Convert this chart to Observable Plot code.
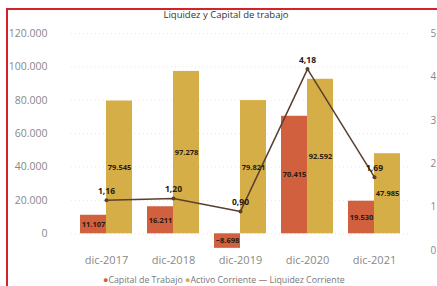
<!DOCTYPE html>
<html>
<head>
<meta charset="utf-8">
<script src="https://cdn.jsdelivr.net/npm/d3@7"></script>
<script src="https://cdn.jsdelivr.net/npm/@observablehq/plot@0.6"></script>
<style>
  html, body { margin: 0; padding: 0; background: #fff; }
  body { width: 437px; height: 286px; overflow: hidden; position: relative; font-family: "Open Sans", sans-serif; }
  #title { position: absolute; top: 8px; left: 0; width: 452px; text-align: center; font-size: 9.5px; color: #333; }
  #chart { position: absolute; top: 22px; left: 0; }
  #legend { position: absolute; top: 273px; left: 103px; font-size: 8.8px; color: #777; white-space: nowrap; }
  #legend span.sw { font-size: 9px; }
  .bl { position: absolute; left: 6px; top: 8px; width: 2px; height: 280px; background: #d2232a; }
  .bt { position: absolute; left: 6px; top: 8px; width: 440px; height: 2px; background: #d2232a; }
</style>
</head>
<body>
<div class="bl"></div>
<div class="bt"></div>
<div id="title">Liquidez y Capital de trabajo</div>
<div id="chart"></div>
<div id="legend"></div>
<script>
const years = ["dic-2017", "dic-2018", "dic-2019", "dic-2020", "dic-2021"];
const capitalTrabajo = [11107, 16211, -8698, 70415, 19530];
const activoCorriente = [79545, 97278, 79821, 92592, 47985];
const liquidezCorriente = [1.16, 1.20, 0.90, 4.18, 1.69];
const leftTicks = [0, 20000, 40000, 60000, 80000, 100000, 120000];
const rightTicks = [0, 1, 2, 3, 4, 5];
const seriesNames = ["Capital de Trabajo", "Activo Corriente", "Liquidez Corriente"];
const colors = ["#d0603e", "#d5ae47", "#5b3f2e"];

const locale = d3.formatLocale({decimal: ",", thousands: ".", grouping: [3], currency: ["", ""]});
const fmtInt = locale.format(",d");
const fmt2 = locale.format(".2f");

const leftDomain = [-10000, 120000];
const rightDomain = [0, 5];
const toLeft = d3.scaleLinear(rightDomain, leftDomain);

const data = years.map((year, i) => ({
  year, cap: capitalTrabajo[i], act: activoCorriente[i], liq: liquidezCorriente[i]
}));

const chart = Plot.plot({
  width: 437,
  height: 250,
  marginTop: 11,
  marginBottom: 22,
  marginLeft: 71,
  marginRight: 29,
  style: {fontFamily: "'Open Sans', sans-serif", background: "transparent"},
  x: {domain: years, paddingInner: 0.23, paddingOuter: 0.115, label: null},
  y: {domain: leftDomain, label: null},
  marks: [
    Plot.gridY(leftTicks, {stroke: "#d8d8d8", strokeOpacity: 0.6, strokeDasharray: "1,3"}),
    Plot.axisY(leftTicks, {anchor: "left", tickSize: 0, tickPadding: 24, tickFormat: fmtInt, fontSize: 10.5, fill: "#888", label: null}),
    Plot.axisY(rightTicks.map(toLeft), {anchor: "right", tickSize: 0, tickPadding: 22, tickFormat: d => String(Math.round(toLeft.invert(d))), fontSize: 10, fill: "#888", label: null}),
    Plot.axisX({tickSize: 0, tickPadding: 6, fontSize: 11, fill: "#888", label: null}),
    Plot.barY(data, {x: "year", y: "cap", fill: colors[0], insetRight: 26}),
    Plot.barY(data, {x: "year", y: "act", fill: colors[1], insetLeft: 26}),
    Plot.line(data, {x: "year", y: d => toLeft(d.liq), stroke: colors[2], strokeWidth: 1.5}),
    Plot.dot(data, {x: "year", y: d => toLeft(d.liq), r: 2, fill: colors[2]}),
    Plot.text(data, {x: "year", y: d => d.cap / 2, text: d => fmtInt(d.cap), dx: -13, fontSize: 7.5, fontWeight: "bold", fill: "#2a1a10"}),
    Plot.text(data, {x: "year", y: d => d.act / 2, text: d => fmtInt(d.act), dx: 13, fontSize: 7.5, fontWeight: "bold", fill: "#2a1a10"}),
    Plot.text(data, {x: "year", y: d => toLeft(d.liq), text: d => fmt2(d.liq), dy: -9, fontSize: 8.5, fontWeight: "bold", fill: "#2a1a10"})
  ]
});
document.getElementById("chart").appendChild(chart);

const legend = document.getElementById("legend");
legend.innerHTML =
  `<span class="sw" style="color:${colors[0]}">●</span>${seriesNames[0]} ` +
  `<span class="sw" style="color:${colors[1]}">●</span>${seriesNames[1]} ` +
  `<span style="color:${colors[2]}">—</span> ${seriesNames[2]}`;
</script>
</body>
</html>
